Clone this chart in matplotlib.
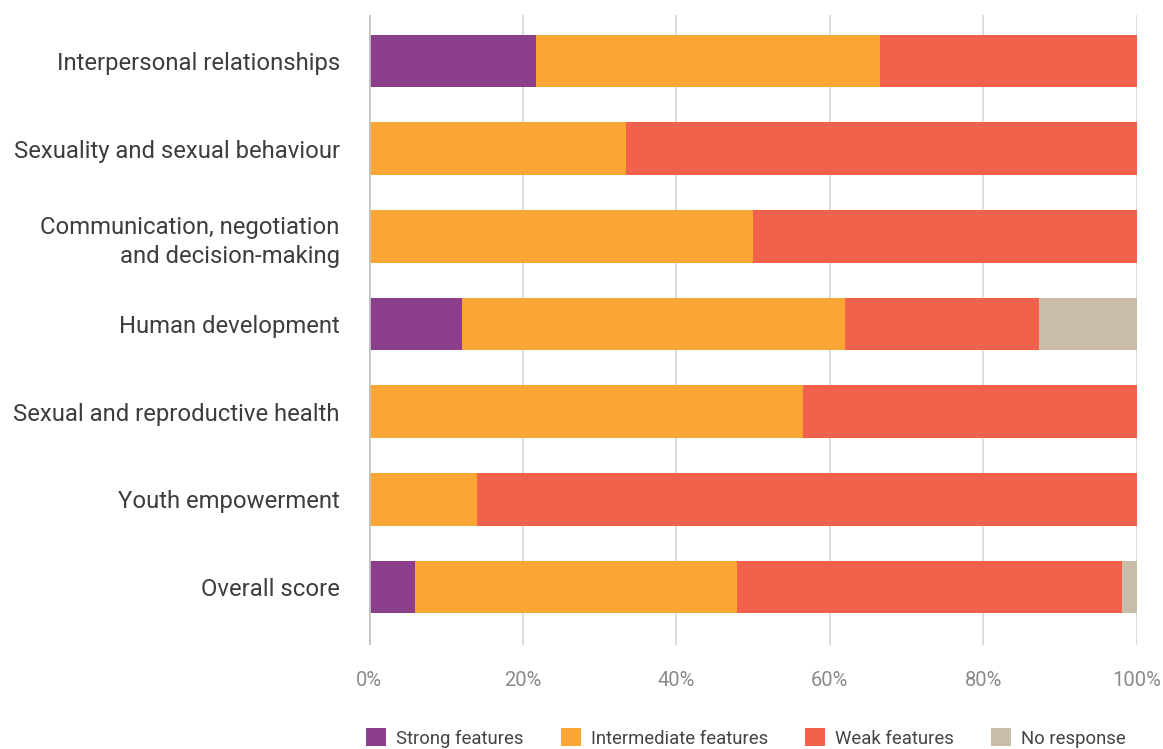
import matplotlib.pyplot as plt
from matplotlib.patches import Patch
from matplotlib.ticker import FuncFormatter

plt.rcParams['font.family'] = ['Roboto', 'DejaVu Sans']

categories = [
    "Interpersonal relationships",
    "Sexuality and sexual behaviour",
    "Communication, negotiation\nand decision-making",
    "Human development",
    "Sexual and reproductive health",
    "Youth empowerment",
    "Overall score",
]

# percentage of respondents per rating
strong = [21.8, 0, 0, 12.1, 0, 0, 6.0]
intermediate = [44.7, 33.5, 50.0, 49.9, 56.5, 14.1, 41.9]
weak = [33.5, 66.5, 50.0, 25.3, 43.5, 85.9, 50.1]
no_response = [0, 0, 0, 12.7, 0, 0, 2.0]

series = ["Strong features", "Intermediate features", "Weak features", "No response"]
colors = ["#8b3f8b", "#f9a634", "#f1614c", "#c9bca9"]

fig = plt.figure(figsize=(11.63, 7.49), dpi=100)
ax = fig.add_axes([369 / 1163, 1 - 645 / 749, 768 / 1163, 630 / 749])

ypos = list(range(len(categories)))
left = [0.0] * len(categories)
for vals, col in zip([strong, intermediate, weak, no_response], colors):
    ax.barh(ypos, vals, left=left, height=0.6, color=col, linewidth=0, zorder=3)
    left = [a + b for a, b in zip(left, vals)]

ax.set_xlim(0, 100)
ax.set_ylim(6.66, -0.525)
ax.set_xticks([0, 20, 40, 60, 80, 100])
ax.xaxis.set_major_formatter(FuncFormatter(lambda v, _: f"{v:.0f}%"))
ax.set_yticks(ypos)
ax.set_yticklabels(categories, fontsize=17.2, color="#3d3d3d", linespacing=1.35)
ax.tick_params(axis="x", length=0, pad=19, labelsize=14.5, labelcolor="#8a8a8a")
ax.tick_params(axis="y", length=0, pad=21)

ax.grid(axis="x", color="#dcdcdc", linewidth=1.4, zorder=0)
for s in ax.spines.values():
    s.set_visible(False)
ax.axvline(0, color="#c4c4c4", linewidth=2, zorder=4)

handles = [Patch(facecolor=c, edgecolor="none") for c in colors]
fig.legend(handles, series, loc="center", bbox_to_anchor=(746 / 1163, 1 - 738 / 749),
           ncol=4, frameon=False, fontsize=13.3, labelcolor="#444444",
           handlelength=1.08, handleheight=1.08, handletextpad=0.55, columnspacing=2.0)

fig.savefig("out.png", dpi=100)
